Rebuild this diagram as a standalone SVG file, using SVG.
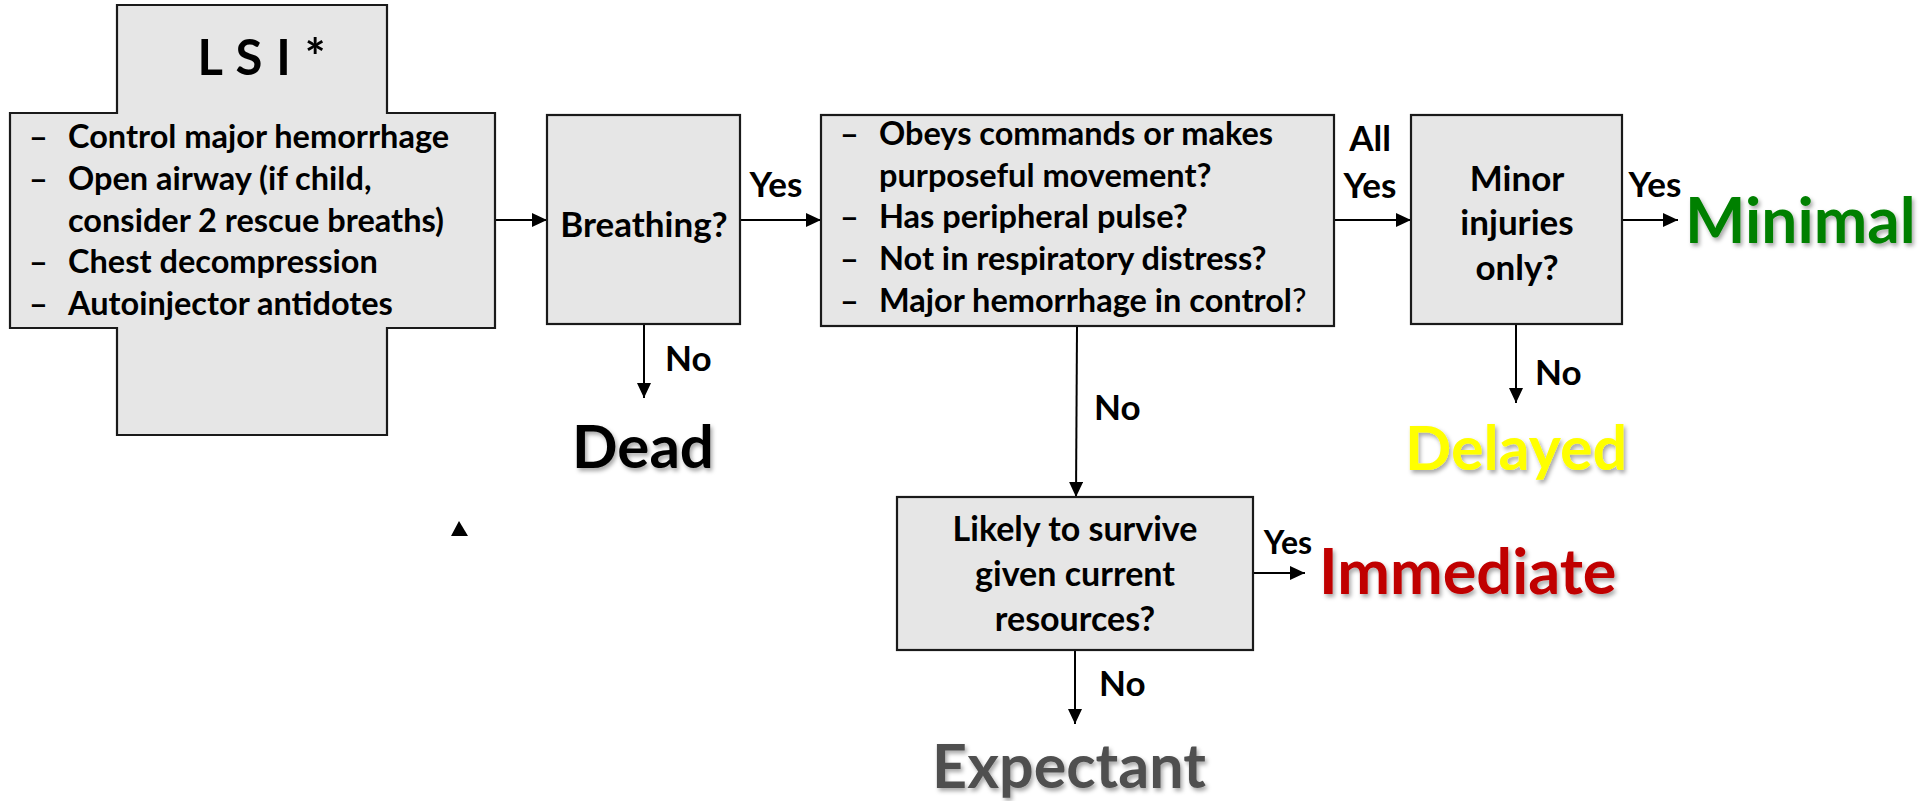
<svg xmlns="http://www.w3.org/2000/svg" width="1926" height="801" viewBox="0 0 1926 801">
<style>
.box{fill:#E6E6E6;stroke:#1A1A1A;stroke-width:2.2}
.t{font-family:Lato,"Liberation Sans",sans-serif;font-weight:bold;fill:#000}
.b{font-size:32.5px}
.q{font-size:35px}
.lbl{font-size:35px}
.out{font-size:62px;filter:url(#sh)}
.c{text-anchor:middle}
.ln{stroke:#000;stroke-width:2;fill:none;marker-end:url(#ah)}
</style>
<defs>
<marker id="ah" markerUnits="userSpaceOnUse" markerWidth="16" markerHeight="16" refX="15" refY="7" orient="auto">
<path d="M0,0 L15,7 L0,14 Z" fill="#000"/>
</marker>
<filter id="sh" x="-10%" y="-20%" width="130%" height="150%">
<feDropShadow dx="2" dy="3" stdDeviation="2" flood-color="#000" flood-opacity="0.35"/>
</filter>
</defs>
<rect width="1926" height="801" fill="#fff"/>

<g id="connectors">
<path class="ln" d="M495,220 H547"/>
<path class="ln" d="M740,220 H821"/>
<path class="ln" d="M1334,220 H1411"/>
<path class="ln" d="M1622,220 H1678"/>
<path class="ln" d="M644,324 V398"/>
<path class="ln" d="M1077,326 L1076,497"/>
<path class="ln" d="M1516,324 V403"/>
<path class="ln" d="M1253,573 H1305"/>
<path class="ln" d="M1075,650 V724"/>
<polygon points="459,521 468,536 451,536" fill="#000"/>
<text class="t lbl c" x="776" y="197">Yes</text>
<text class="t lbl c" x="1370" y="151">All</text>
<text class="t lbl c" x="1370" y="198">Yes</text>
<text class="t lbl c" x="1655" y="197">Yes</text>
<text class="t lbl" x="665" y="371">No</text>
<text class="t lbl" x="1094" y="420">No</text>
<text class="t lbl" x="1535" y="385">No</text>
<text class="t c" style="font-size:32px" x="1288" y="554">Yes</text>
<text class="t lbl" x="1099" y="696">No</text>
</g>

<g id="lsi">
<path class="box" d="M117,5 H387 V113 H495 V328 H387 V435 H117 V328 H10 V113 H117 Z"/>
<text class="t c" style="font-size:49px;letter-spacing:1px" x="262" y="75">L S I *</text>
<g class="t b">
<text x="29" y="148">–</text><text x="68" y="148">Control major hemorrhage</text>
<text x="29" y="190">–</text><text x="68" y="190">Open airway (if child,</text>
<text x="68" y="232">consider 2 rescue breaths)</text>
<text x="29" y="273">–</text><text x="68" y="273">Chest decompression</text>
<text x="29" y="315">–</text><text x="68" y="315">Autoinjector antidotes</text>
</g>
</g>

<g id="breathing">
<rect class="box" x="547" y="115" width="193" height="209"/>
<text class="t q c" x="644" y="237">Breathing?</text>
</g>

<g id="checks">
<rect class="box" x="821" y="115" width="513" height="211"/>
<g class="t b">
<text x="840" y="145">–</text><text x="879" y="145">Obeys commands or makes</text>
<text x="879" y="187">purposeful movement?</text>
<text x="840" y="228">–</text><text x="879" y="228">Has peripheral pulse?</text>
<text x="840" y="270">–</text><text x="879" y="270">Not in respiratory distress?</text>
<text x="840" y="312">–</text><text x="879" y="312">Major hemorrhage in control<tspan font-weight="normal">?</tspan></text>
</g>
</g>

<g id="minor">
<rect class="box" x="1411" y="115" width="211" height="209"/>
<g class="t q c">
<text x="1517" y="191">Minor</text>
<text x="1517" y="235">injuries</text>
<text x="1517" y="280">only?</text>
</g>
</g>

<g id="likely">
<rect class="box" x="897" y="497" width="356" height="153"/>
<g class="t c" style="font-size:34px">
<text x="1075" y="541">Likely to survive</text>
<text x="1075" y="586">given current</text>
<text x="1075" y="631">resources?</text>
</g>
</g>

<g id="dead"><text class="t out c" style="font-size:60px" x="643" y="468">Dead</text></g>
<g id="minimal"><text class="t out" style="fill:#008000;font-size:64px" x="1685" y="243">Minimal</text></g>
<g id="delayed"><text class="t out c" style="fill:#FFFF00;font-size:61px" x="1516" y="470">Delayed</text></g>
<g id="immediate"><text class="t out" style="fill:#C00000;font-size:63px" x="1319" y="594">Immediate</text></g>
<g id="expectant"><text class="t out c" style="fill:#505050;font-size:61px" x="1069" y="788">Expectant</text></g>
</svg>
